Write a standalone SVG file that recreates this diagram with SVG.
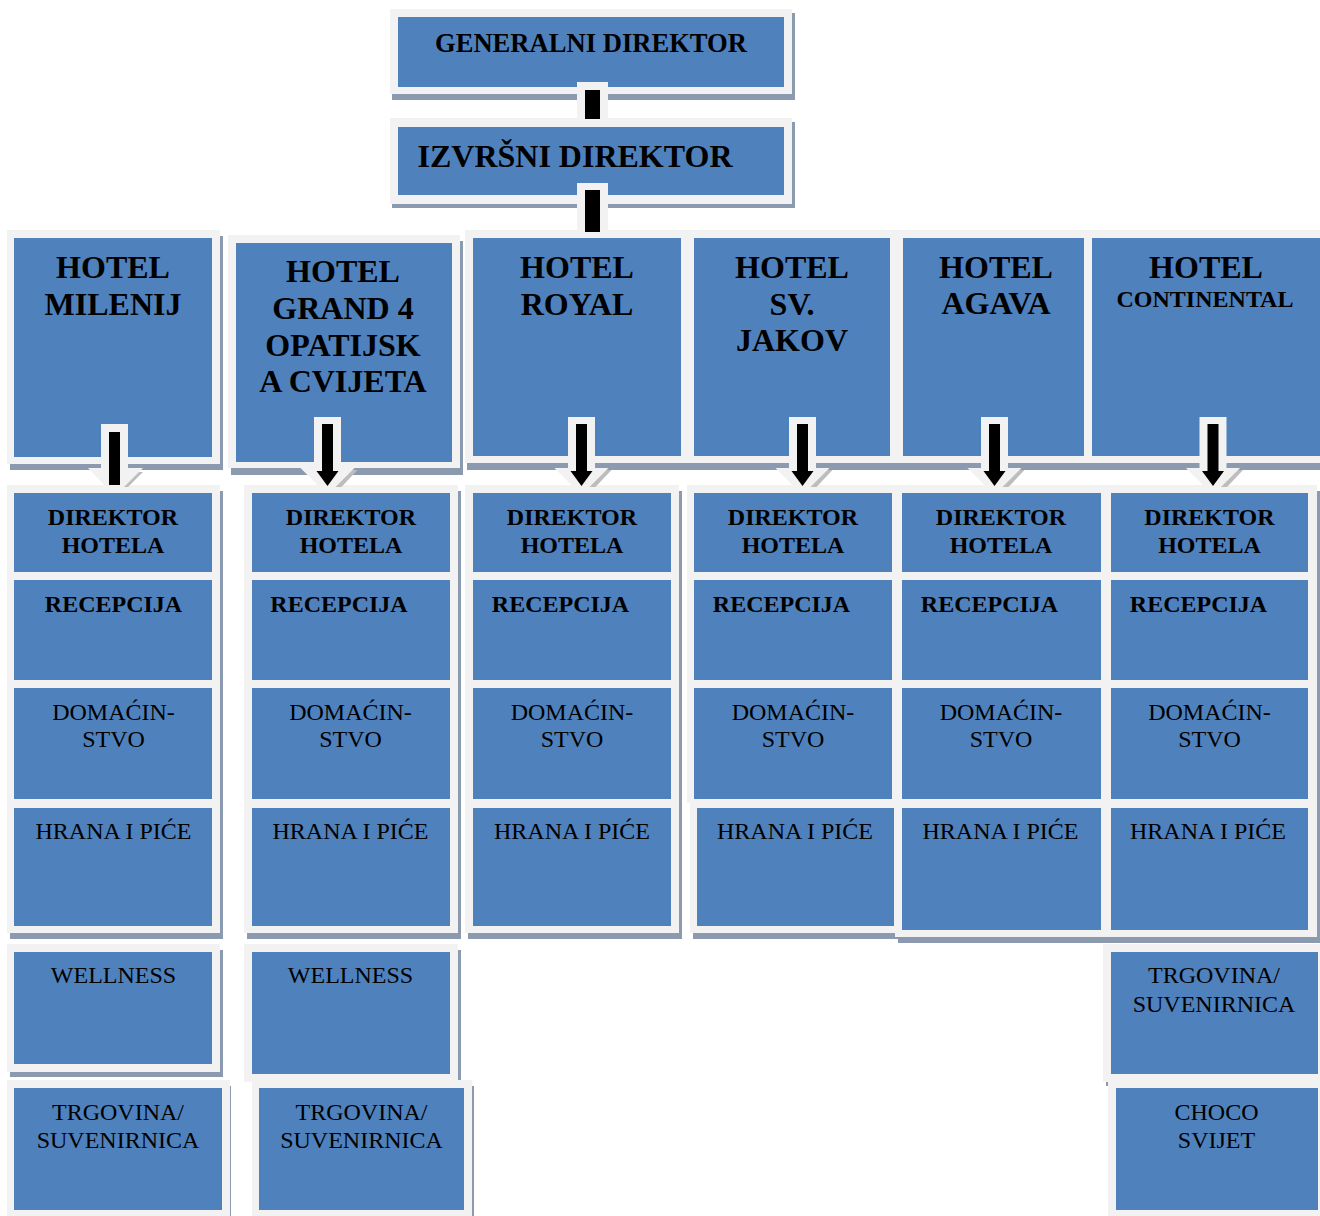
<svg xmlns="http://www.w3.org/2000/svg" xmlns:xlink="http://www.w3.org/1999/xlink" width="1320" height="1216" viewBox="0 0 1320 1216">
<style>
.sh{fill:#8c9ab0}
.fr{fill:#f2f2f2}
.bx{fill:#4f81bd}
.t{font-family:"Liberation Serif","Times New Roman",serif;fill:#000;text-anchor:middle}
.b{font-weight:bold}
.h{font-size:32px}
.s{font-size:24px}
.ab{fill:#000}
.af{fill:#f2f2f2}
.aw{fill:#bdbdbd}
</style>
<defs>
<g id="arr">
<polygon class="aw" points="8,470 30,470 14,487 6,487"/>
<rect class="af" x="-13.5" y="417" width="27" height="53"/>
<polygon class="af" points="-27,468 27,468 8,487 -8,487"/>
<rect class="ab" x="-5.5" y="424" width="11" height="48"/>
<polygon class="ab" points="-11,471 11,471 0,486"/>
</g>
</defs>
<rect width="1320" height="1216" fill="#fff"/>

<g id="generalni">
<rect class="sh" x="392" y="13" width="403" height="87"/>
<rect class="fr" x="390" y="9" width="402" height="85"/>
<rect class="bx" x="398" y="17" width="386" height="70"/>
<text class="t b" x="591" y="52" font-size="27" textLength="312" lengthAdjust="spacingAndGlyphs">GENERALNI DIREKTOR</text>
</g>
<g id="izvrsni">
<rect class="sh" x="392" y="122" width="403" height="86"/>
<rect class="fr" x="390" y="118" width="402" height="86"/>
<rect class="bx" x="398" y="127" width="386" height="68"/>
<text class="t b h" x="575" y="167">IZVRŠNI DIREKTOR</text>
</g>

<g id="hotel-milenij">
<rect class="sh" x="10" y="236" width="213" height="234"/>
<rect class="fr" x="7" y="230" width="213" height="234"/>
<rect class="bx" x="14" y="238" width="198" height="219"/>
<text class="t b h" x="113" y="278">HOTEL</text>
<text class="t b h" x="113" y="315">MILENIJ</text>
</g>
<g id="hotel-grand">
<rect class="sh" x="231" y="241" width="232" height="234"/>
<rect class="fr" x="228" y="235" width="232" height="233"/>
<rect class="bx" x="236" y="243" width="216" height="219"/>
<text class="t b h" x="343" y="282">HOTEL</text>
<text class="t b h" x="343" y="319">GRAND 4</text>
<text class="t b h" x="343" y="356">OPATIJSK</text>
<text class="t b h" x="343" y="392">A CVIJETA</text>
</g>
<g id="hotel-royal">
<rect class="sh" x="467" y="236" width="222" height="234"/>
<rect class="fr" x="465" y="230" width="222" height="233"/>
<rect class="bx" x="473" y="238" width="208" height="218"/>
<text class="t b h" x="577" y="278">HOTEL</text>
<text class="t b h" x="577" y="315">ROYAL</text>
</g>
<g id="hotel-svjakov">
<rect class="sh" x="689" y="236" width="210" height="234"/>
<rect class="fr" x="687" y="230" width="210" height="233"/>
<rect class="bx" x="694" y="238" width="196" height="218"/>
<text class="t b h" x="792" y="278">HOTEL</text>
<text class="t b h" x="792" y="315">SV.</text>
<text class="t b h" x="792" y="351">JAKOV</text>
</g>
<g id="hotel-agava">
<rect class="sh" x="898" y="236" width="194" height="234"/>
<rect class="fr" x="896" y="230" width="194" height="233"/>
<rect class="bx" x="903" y="238" width="181" height="218"/>
<text class="t b h" x="996" y="278">HOTEL</text>
<text class="t b h" x="996" y="314">AGAVA</text>
</g>
<g id="hotel-continental">
<rect class="sh" x="1087" y="236" width="236" height="234"/>
<rect class="fr" x="1085" y="230" width="235" height="233"/>
<rect class="bx" x="1092" y="238" width="228" height="218"/>
<text class="t b h" x="1206" y="278">HOTEL</text>
<text class="t b s" x="1205" y="307">CONTINENTAL</text>
</g>

<!-- column 1 -->
<g id="c1-direktor"><rect class="sh" x="10" y="491" width="213" height="91"/><rect class="fr" x="7" y="485" width="213" height="91"/><rect class="bx" x="14" y="493" width="198" height="79"/><text class="t b s" x="113" y="525">DIREKTOR</text><text class="t b s" x="113" y="553">HOTELA</text></g>
<g id="c1-recepcija"><rect class="sh" x="10" y="578" width="213" height="112"/><rect class="fr" x="7" y="572" width="213" height="112"/><rect class="bx" x="14" y="580" width="198" height="100"/><text class="t b s" x="113.5" y="612">RECEPCIJA</text></g>
<g id="c1-domacinstvo"><rect class="sh" x="10" y="686" width="213" height="123"/><rect class="fr" x="7" y="680" width="213" height="123"/><rect class="bx" x="14" y="688" width="198" height="111"/><text class="t s" x="113.5" y="720">DOMAĆIN-</text><text class="t s" x="113.5" y="747">STVO</text></g>
<g id="c1-hrana"><rect class="sh" x="10" y="805" width="213" height="134"/><rect class="fr" x="7" y="799" width="213" height="134"/><rect class="bx" x="14" y="808" width="198" height="118"/><text class="t s" x="113.5" y="839">HRANA I PIĆE</text></g>
<g id="c1-wellness"><rect class="sh" x="10" y="950" width="213" height="127"/><rect class="fr" x="7" y="944" width="213" height="128"/><rect class="bx" x="14" y="952" width="198" height="112"/><text class="t s" x="113.5" y="983">WELLNESS</text></g>
<g id="c1-trgovina"><rect class="sh" x="10" y="1086" width="221" height="140"/><rect class="fr" x="7" y="1080" width="223" height="140"/><rect class="bx" x="14" y="1088" width="208" height="122"/><text class="t s" x="118" y="1120">TRGOVINA/</text><text class="t s" x="118" y="1148">SUVENIRNICA</text></g>

<!-- column 2 -->
<g id="c2-direktor"><rect class="sh" x="247" y="491" width="214" height="91"/><rect class="fr" x="244" y="485" width="214" height="91"/><rect class="bx" x="252" y="493" width="198" height="79"/><text class="t b s" x="351" y="525">DIREKTOR</text><text class="t b s" x="351" y="553">HOTELA</text></g>
<g id="c2-recepcija"><rect class="sh" x="247" y="578" width="214" height="112"/><rect class="fr" x="244" y="572" width="214" height="112"/><rect class="bx" x="252" y="580" width="198" height="100"/><text class="t b s" x="339" y="612">RECEPCIJA</text></g>
<g id="c2-domacinstvo"><rect class="sh" x="247" y="686" width="214" height="123"/><rect class="fr" x="244" y="680" width="214" height="123"/><rect class="bx" x="252" y="688" width="198" height="111"/><text class="t s" x="350.5" y="720">DOMAĆIN-</text><text class="t s" x="350.5" y="747">STVO</text></g>
<g id="c2-hrana"><rect class="sh" x="247" y="805" width="214" height="134"/><rect class="fr" x="244" y="799" width="214" height="134"/><rect class="bx" x="252" y="808" width="198" height="118"/><text class="t s" x="350.5" y="839">HRANA I PIĆE</text></g>
<g id="c2-wellness"><rect class="sh" x="247" y="950" width="214" height="132"/><rect class="fr" x="244" y="944" width="214" height="138"/><rect class="bx" x="252" y="952" width="198" height="122"/><text class="t s" x="350.5" y="983">WELLNESS</text></g>
<g id="c2-trgovina"><rect class="sh" x="255" y="1086" width="219" height="140"/><rect class="fr" x="252" y="1080" width="220" height="140"/><rect class="bx" x="259" y="1088" width="205" height="122"/><text class="t s" x="361.5" y="1120">TRGOVINA/</text><text class="t s" x="361.5" y="1148">SUVENIRNICA</text></g>

<!-- column 3 -->
<g id="c3-direktor"><rect class="sh" x="468" y="491" width="214" height="91"/><rect class="fr" x="465" y="485" width="214" height="91"/><rect class="bx" x="473" y="493" width="198" height="79"/><text class="t b s" x="572" y="525">DIREKTOR</text><text class="t b s" x="572" y="553">HOTELA</text></g>
<g id="c3-recepcija"><rect class="sh" x="468" y="578" width="214" height="112"/><rect class="fr" x="465" y="572" width="214" height="112"/><rect class="bx" x="473" y="580" width="198" height="100"/><text class="t b s" x="560.5" y="612">RECEPCIJA</text></g>
<g id="c3-domacinstvo"><rect class="sh" x="468" y="686" width="214" height="123"/><rect class="fr" x="465" y="680" width="214" height="123"/><rect class="bx" x="473" y="688" width="198" height="111"/><text class="t s" x="572" y="720">DOMAĆIN-</text><text class="t s" x="572" y="747">STVO</text></g>
<g id="c3-hrana"><rect class="sh" x="468" y="805" width="214" height="134"/><rect class="fr" x="465" y="799" width="214" height="134"/><rect class="bx" x="473" y="808" width="198" height="118"/><text class="t s" x="572" y="839">HRANA I PIĆE</text></g>

<!-- column 4 -->
<g id="c4-direktor"><rect class="sh" x="690" y="491" width="213" height="91"/><rect class="fr" x="687" y="485" width="213" height="91"/><rect class="bx" x="694" y="493" width="198" height="79"/><text class="t b s" x="793" y="525">DIREKTOR</text><text class="t b s" x="793" y="553">HOTELA</text></g>
<g id="c4-recepcija"><rect class="sh" x="690" y="578" width="213" height="112"/><rect class="fr" x="687" y="572" width="213" height="112"/><rect class="bx" x="694" y="580" width="198" height="100"/><text class="t b s" x="781.5" y="612">RECEPCIJA</text></g>
<g id="c4-domacinstvo"><rect class="sh" x="690" y="686" width="213" height="123"/><rect class="fr" x="687" y="680" width="213" height="123"/><rect class="bx" x="694" y="688" width="198" height="111"/><text class="t s" x="793" y="720">DOMAĆIN-</text><text class="t s" x="793" y="747">STVO</text></g>
<g id="c4-hrana"><rect class="sh" x="693" y="805" width="212" height="134"/><rect class="fr" x="690" y="799" width="212" height="134"/><rect class="bx" x="697" y="808" width="197" height="118"/><text class="t s" x="795" y="839">HRANA I PIĆE</text></g>

<!-- column 5 -->
<g id="c5-direktor"><rect class="sh" x="898" y="491" width="213" height="91"/><rect class="fr" x="895" y="485" width="213" height="91"/><rect class="bx" x="902" y="493" width="199" height="79"/><text class="t b s" x="1001" y="525">DIREKTOR</text><text class="t b s" x="1001" y="553">HOTELA</text></g>
<g id="c5-recepcija"><rect class="sh" x="898" y="578" width="213" height="112"/><rect class="fr" x="895" y="572" width="213" height="112"/><rect class="bx" x="902" y="580" width="199" height="100"/><text class="t b s" x="989.5" y="612">RECEPCIJA</text></g>
<g id="c5-domacinstvo"><rect class="sh" x="898" y="686" width="213" height="123"/><rect class="fr" x="895" y="680" width="213" height="123"/><rect class="bx" x="902" y="688" width="199" height="111"/><text class="t s" x="1001" y="720">DOMAĆIN-</text><text class="t s" x="1001" y="747">STVO</text></g>
<g id="c5-hrana"><rect class="sh" x="898" y="805" width="213" height="138"/><rect class="fr" x="895" y="799" width="213" height="138"/><rect class="bx" x="902" y="808" width="199" height="122"/><text class="t s" x="1000.5" y="839">HRANA I PIĆE</text></g>

<!-- column 6 -->
<g id="c6-direktor"><rect class="sh" x="1106" y="491" width="214" height="91"/><rect class="fr" x="1103" y="485" width="214" height="91"/><rect class="bx" x="1111" y="493" width="197" height="79"/><text class="t b s" x="1209.5" y="525">DIREKTOR</text><text class="t b s" x="1209.5" y="553">HOTELA</text></g>
<g id="c6-recepcija"><rect class="sh" x="1106" y="578" width="214" height="112"/><rect class="fr" x="1103" y="572" width="214" height="112"/><rect class="bx" x="1111" y="580" width="197" height="100"/><text class="t b s" x="1198.5" y="612">RECEPCIJA</text></g>
<g id="c6-domacinstvo"><rect class="sh" x="1106" y="686" width="214" height="123"/><rect class="fr" x="1103" y="680" width="214" height="123"/><rect class="bx" x="1111" y="688" width="197" height="111"/><text class="t s" x="1209.5" y="720">DOMAĆIN-</text><text class="t s" x="1209.5" y="747">STVO</text></g>
<g id="c6-hrana"><rect class="sh" x="1106" y="805" width="214" height="138"/><rect class="fr" x="1103" y="799" width="214" height="138"/><rect class="bx" x="1111" y="808" width="197" height="122"/><text class="t s" x="1208" y="839">HRANA I PIĆE</text></g>
<g id="c6-trgovina"><rect class="sh" x="1106" y="950" width="214" height="136"/><rect class="fr" x="1103" y="944" width="217" height="138"/><rect class="bx" x="1111" y="952" width="207" height="122"/><text class="t s" x="1214" y="983">TRGOVINA/</text><text class="t s" x="1214" y="1012">SUVENIRNICA</text></g>
<g id="c6-choco"><rect class="fr" x="1108" y="1082" width="212" height="140"/><rect class="bx" x="1116" y="1088" width="202" height="122"/><text class="t s" x="1216.5" y="1120">CHOCO</text><text class="t s" x="1216.5" y="1148">SVIJET</text></g>

<g id="connectors">
<rect class="af" x="577" y="82" width="31" height="38"/>
<rect class="ab" x="585" y="90" width="15" height="29"/>
<rect class="af" x="577" y="183" width="31" height="48"/>
<rect class="ab" x="585" y="190" width="15" height="42"/>
<g>
<polygon class="aw" points="123,472 143,472 128,487 121,487"/>
<rect class="af" x="101" y="424" width="27" height="46"/>
<polygon class="af" points="88,468 143,468 124,487 106,487"/>
<rect class="ab" x="109" y="432" width="11" height="53"/>
</g>
<use xlink:href="#arr" href="#arr" transform="translate(327.5,0)"/>
<use xlink:href="#arr" href="#arr" transform="translate(581.5,0)"/>
<use xlink:href="#arr" href="#arr" transform="translate(802.5,0)"/>
<use xlink:href="#arr" href="#arr" transform="translate(994.5,0)"/>
<use xlink:href="#arr" href="#arr" transform="translate(1213,0)"/>
</g>
</svg>
